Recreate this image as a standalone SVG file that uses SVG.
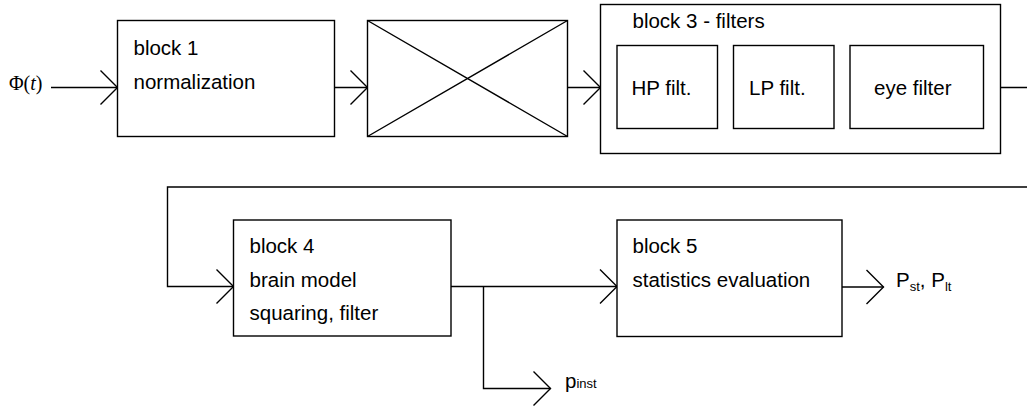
<svg xmlns="http://www.w3.org/2000/svg" width="1027" height="407" viewBox="0 0 1027 407">
<defs>
<style>
.box{fill:#fff;stroke:#000;stroke-width:1.4}
.ln{fill:none;stroke:#000;stroke-width:1.4}
.t{font-family:"Liberation Sans",Arial,sans-serif;font-size:20.5px;fill:#000}
.s{font-size:13px}
.m{font-family:"Liberation Serif","Times New Roman",serif;font-size:20px;fill:#000}
</style>
<marker id="chev" markerUnits="userSpaceOnUse" markerWidth="40" markerHeight="40" viewBox="-20 -20 40 40" refX="0" refY="0" orient="auto" overflow="visible">
<path d="M-17,-17 L0,0 L-17,17" fill="none" stroke="#000" stroke-width="1.4"/>
</marker>
</defs>
<rect width="1027" height="407" fill="#fff"/>
<g id="connectors">
<path class="ln" d="M51,87.5 H117.5" marker-end="url(#chev)"/>
<path class="ln" d="M334.5,87.5 H367.5" marker-end="url(#chev)"/>
<path class="ln" d="M567.5,87.5 H600.5" marker-end="url(#chev)"/>
<path class="ln" d="M1000.5,87.5 H1040 V187 H167.5 V286.5 H233.5" marker-end="url(#chev)"/>
<path class="ln" d="M451,286.5 H617" marker-end="url(#chev)"/>
<path class="ln" d="M483.5,286.5 V388.5 H550.5" marker-end="url(#chev)"/>
<path class="ln" d="M841.5,287 H883.5" marker-end="url(#chev)"/>
</g>
<g id="input">
<text class="m" x="9" y="90">Φ(<tspan font-style="italic">t</tspan>)</text>
</g>
<g id="block1">
<rect class="box" x="117.5" y="20.5" width="217" height="116"/>
<text class="t" x="133.5" y="55">block 1</text>
<text class="t" x="133.5" y="89">normalization</text>
</g>
<g id="block2">
<rect class="box" x="367.5" y="20.5" width="200" height="116"/>
<path class="ln" d="M367.5,20.5 L567.5,136.5 M367.5,136.5 L567.5,20.5"/>
</g>
<g id="block3">
<rect class="box" x="600.5" y="4.5" width="400" height="149"/>
<text class="t" x="632.5" y="28">block 3 - filters</text>
<g id="hp">
<rect class="box" x="617" y="45.5" width="100.5" height="83"/>
<text class="t" x="631.5" y="95">HP filt.</text>
</g>
<g id="lp">
<rect class="box" x="733.5" y="45.5" width="100.5" height="83"/>
<text class="t" x="749" y="95">LP filt.</text>
</g>
<g id="eye">
<rect class="box" x="850" y="45.5" width="133.5" height="83"/>
<text class="t" x="874" y="95">eye filter</text>
</g>
</g>
<g id="block4">
<rect class="box" x="233.5" y="220" width="217.5" height="116"/>
<text class="t" x="249.5" y="253">block 4</text>
<text class="t" x="249.5" y="287">brain model</text>
<text class="t" x="249.5" y="320">squaring, filter</text>
</g>
<g id="block5">
<rect class="box" x="617" y="220" width="225" height="116.5"/>
<text class="t" x="632.5" y="253">block 5</text>
<text class="t" x="632.5" y="287">statistics evaluation</text>
</g>
<g id="out-pinst">
<text class="t" x="565" y="388">p<tspan class="s">inst</tspan></text>
</g>
<g id="out-pst">
<text class="t" x="896" y="287">P<tspan class="s" dy="4">st</tspan><tspan dy="-4">, P</tspan><tspan class="s" dy="4">lt</tspan></text>
</g>
</svg>
